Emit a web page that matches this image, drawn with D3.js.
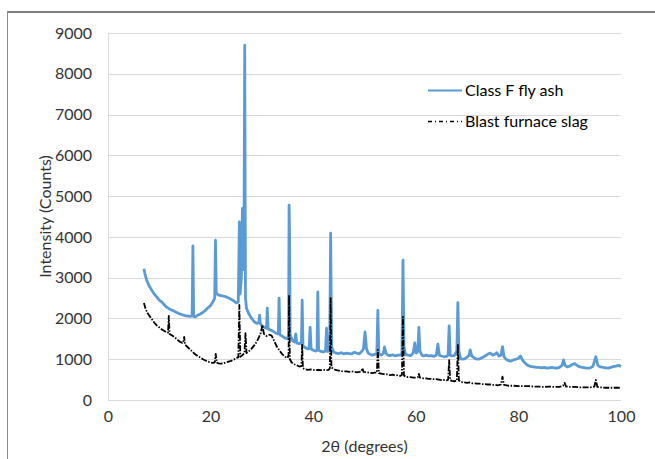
<!DOCTYPE html>
<html><head><meta charset="utf-8">
<script src="https://cdn.jsdelivr.net/npm/d3@7"></script>
<style>
html,body{margin:0;padding:0;background:#fff;}
svg{display:block;font-family:Lato,"Open Sans",sans-serif;}
</style></head>
<body>
<svg id="chart" width="655" height="459"></svg>
<script>
const xTicks = [0, 20, 40, 60, 80, 100];
const yTicks = [0, 1000, 2000, 3000, 4000, 5000, 6000, 7000, 8000, 9000];
const seriesNames = ["Class F fly ash", "Blast furnace slag"];

// [2θ, counts]
const flyAsh = [
[7.0,3220],[7.2,3100],[7.5,2950],[8.0,2800],[8.5,2700],[9.0,2600],[9.5,2530],[10.0,2450],
[10.5,2400],[11.0,2330],[11.5,2270],[12.0,2230],[12.5,2200],[13.0,2170],[13.5,2140],[14.0,2110],
[14.5,2090],[15.0,2070],[15.5,2060],[16.0,2050],[16.4,2060],[16.55,3780],[16.7,2050],[17.0,2040],
[17.5,2080],[18.0,2110],[18.5,2150],[19.0,2200],[19.5,2260],[20.0,2320],[20.5,2420],[20.8,2500],
[20.95,3920],[21.1,2620],[21.5,2580],[22.0,2560],[22.5,2550],[23.0,2530],[23.5,2500],[24.0,2470],
[24.5,2430],[25.0,2380],[25.4,2400],[25.6,4370],[25.75,2600],[26.0,3000],[26.2,4700],[26.35,3200],
[26.5,3600],[26.65,8700],[26.8,2500],[27.0,2250],[27.5,2100],[28.0,2000],[28.5,1920],[29.0,1880],
[29.4,1900],[29.55,2080],[29.7,1870],[30.0,1820],[30.5,1780],[30.9,1760],[31.05,2250],[31.2,1750],
[31.5,1720],[32.0,1700],[32.5,1660],[33.0,1620],[33.2,1640],[33.35,2500],[33.5,1600],[34.0,1560],
[34.5,1520],[35.0,1500],[35.2,1600],[35.3,4780],[35.4,4000],[35.5,1600],[36.0,1450],[36.4,1420],
[36.6,1620],[36.8,1400],[37.2,1380],[37.5,1400],[37.7,1380],[37.85,2450],[38.0,1330],[38.5,1280],
[39.0,1250],[39.2,1260],[39.4,1780],[39.6,1250],[40.0,1220],[40.5,1200],[40.75,1220],[40.9,2650],
[41.05,1220],[41.5,1190],[42.0,1180],[42.4,1200],[42.6,1760],[42.8,1190],[43.2,1200],[43.4,4090],
[43.6,1300],[44.0,1170],[44.5,1150],[45.0,1140],[45.5,1160],[46.0,1130],[46.5,1150],[47.0,1140],
[47.5,1130],[48.0,1170],[48.5,1150],[49.0,1130],[49.5,1200],[49.8,1250],[50.1,1670],[50.4,1250],
[50.7,1150],[51.0,1130],[51.5,1100],[52.0,1120],[52.4,1130],[52.6,2200],[52.8,1130],[53.2,1100],
[53.7,1150],[53.9,1300],[54.2,1150],[54.5,1100],[55.0,1090],[55.5,1110],[56.0,1080],[56.5,1100],
[57.0,1100],[57.3,1150],[57.5,3430],[57.7,1300],[58.0,1120],[58.5,1100],[59.0,1090],[59.5,1150],
[59.8,1400],[60.1,1150],[60.4,1200],[60.6,1780],[60.8,1200],[61.2,1100],[61.5,1080],[62.0,1100],
[62.5,1080],[63.0,1090],[63.5,1070],[64.0,1100],[64.3,1370],[64.6,1100],[65.0,1080],[65.5,1060],
[66.0,1070],[66.3,1100],[66.5,1820],[66.7,1100],[67.0,1080],[67.5,1090],[68.0,1200],[68.2,2390],
[68.4,1200],[68.7,1020],[69.0,1000],[69.5,1010],[70.0,1050],[70.4,1100],[70.6,1230],[70.9,1080],
[71.5,1020],[72.0,1000],[72.5,1010],[73.0,1040],[73.5,1080],[74.0,1120],[74.5,1150],[75.0,1100],
[75.5,1130],[75.8,1160],[76.2,1080],[76.6,1100],[76.9,1310],[77.2,1060],[77.6,1000],[78.0,970],
[78.5,950],[79.0,980],[79.5,1000],[80.0,1020],[80.4,1080],[80.8,980],[81.2,920],[81.6,870],
[82.0,840],[82.5,820],[83.0,810],[83.5,800],[84.0,800],[84.5,790],[85.0,800],[85.5,780],
[86.0,790],[86.5,800],[87.0,790],[87.5,780],[88.0,800],[88.5,850],[88.8,980],[89.1,850],
[89.5,810],[90.0,830],[90.5,870],[91.0,890],[91.5,840],[92.0,810],[92.5,800],[93.0,790],
[93.5,780],[94.0,790],[94.5,820],[95.1,1060],[95.5,850],[96.0,810],[96.5,800],[97.0,790],
[97.5,780],[98.0,800],[98.5,820],[99.0,830],[99.5,850],[100.0,820]
];

const slag = [
[7.0,2380],[7.3,2250],[7.6,2150],[8.0,2080],[8.5,1990],[9.0,1900],[9.5,1830],[10.0,1780],
[10.5,1730],[11.0,1690],[11.5,1650],[11.7,1660],[11.85,2060],[12.0,1620],[12.5,1580],[13.0,1540],
[13.5,1480],[14.0,1430],[14.5,1400],[14.7,1420],[14.85,1550],[15.0,1360],[15.5,1300],[16.0,1240],
[16.5,1180],[17.0,1120],[17.5,1080],[18.0,1040],[18.5,1000],[19.0,970],[19.5,940],[20.0,920],
[20.5,910],[20.8,920],[21.0,1130],[21.2,920],[21.5,900],[22.0,890],[22.5,900],[23.0,920],
[23.5,940],[24.0,960],[24.5,990],[25.0,1020],[25.4,1050],[25.6,2330],[25.8,1060],[26.2,1100],
[26.6,1150],[26.8,1640],[27.0,1150],[27.5,1200],[28.0,1260],[28.5,1340],[29.0,1430],[29.5,1560],
[29.8,1650],[30.1,1840],[30.4,1620],[30.9,1570],[31.5,1600],[31.9,1580],[32.4,1450],[32.9,1310],
[33.5,1200],[34.0,1120],[34.5,1060],[35.0,1030],[35.2,1100],[35.3,2570],[35.45,1000],[35.8,920],
[36.2,880],[36.6,860],[37.0,840],[37.3,820],[37.7,830],[37.85,1350],[38.0,780],[38.5,750],
[39.0,740],[39.5,750],[40.0,740],[40.5,730],[41.0,740],[41.5,730],[42.0,740],[42.5,730],
[43.0,740],[43.25,780],[43.4,2500],[43.55,800],[44.0,760],[44.5,730],[45.0,720],[45.5,710],
[46.0,700],[46.5,700],[47.0,690],[47.5,700],[48.0,690],[48.5,680],[49.0,690],[49.4,700],
[49.6,780],[49.8,690],[50.5,680],[51.0,670],[51.5,660],[52.0,670],[52.4,670],[52.6,1230],
[52.8,660],[53.5,640],[54.0,630],[54.5,630],[55.0,610],[55.5,620],[56.0,600],[56.5,610],
[57.0,590],[57.3,620],[57.5,2040],[57.7,600],[58.0,570],[58.5,560],[59.0,560],[59.5,550],
[60.0,550],[60.4,560],[60.6,640],[60.8,550],[61.5,530],[62.0,530],[62.5,520],[63.0,520],
[63.5,510],[64.0,510],[64.5,500],[65.0,490],[65.5,490],[66.0,480],[66.3,500],[66.5,980],
[66.7,490],[67.0,470],[67.5,460],[68.0,470],[68.2,1350],[68.4,480],[68.8,440],[69.5,430],
[70.0,420],[70.5,430],[71.0,410],[71.5,410],[72.0,400],[72.5,400],[73.0,390],[73.5,390],
[74.0,380],[74.5,380],[75.0,370],[75.5,370],[76.0,360],[76.6,380],[76.9,570],[77.2,370],
[78.0,350],[79.0,350],[80.0,340],[81.0,340],[82.0,340],[83.0,330],[84.0,330],[85.0,320],
[86.0,330],[87.0,320],[88.0,320],[88.7,350],[89.0,420],[89.3,330],[90.0,320],[91.0,320],
[92.0,310],[93.0,310],[94.0,310],[94.8,330],[95.1,490],[95.4,320],[96.0,310],[97.0,300],
[98.0,300],[99.0,300],[100.0,300]
];

const svg = d3.select("#chart");
const W = 655, H = 459;
const plot = {left:108, right:621, top:33, bottom:400};
const x = d3.scaleLinear().domain([0,100]).range([plot.left, plot.right]);
const y = d3.scaleLinear().domain([0,9000]).range([plot.bottom, plot.top]);
const textColor = "#333";
const blue = "#5b9bd5";
const fs = "16px";

// outer frame
svg.append("line").attr("x1",7).attr("x2",W).attr("y1",12).attr("y2",12)
  .attr("stroke","#7f7f7f").attr("stroke-width",2);
svg.append("line").attr("x1",7.5).attr("x2",7.5).attr("y1",11).attr("y2",H)
  .attr("stroke","#8c8c8c").attr("stroke-width",1);

// gridlines
svg.append("g").selectAll("line").data(yTicks).join("line")
  .attr("x1",plot.left).attr("x2",plot.right)
  .attr("y1",d=>Math.round(y(d))+0.5).attr("y2",d=>Math.round(y(d))+0.5)
  .attr("stroke","#d9d9d9").attr("stroke-width",1);
svg.append("line").attr("x1",plot.left+0.5).attr("x2",plot.left+0.5)
  .attr("y1",plot.top).attr("y2",plot.bottom+0.5)
  .attr("stroke","#d9d9d9");

// axes (labels only)
const yAxis = d3.axisLeft(y).tickValues(yTicks).tickFormat(d3.format("d")).tickSize(0).tickPadding(16);
const gy = svg.append("g").attr("transform",`translate(${plot.left},0)`).call(yAxis);
gy.select(".domain").remove();
gy.selectAll("text").attr("fill",textColor).style("font-size",fs).style("font-family","Lato,sans-serif");

const xAxis = d3.axisBottom(x).tickValues(xTicks).tickFormat(d3.format("d")).tickSize(0).tickPadding(11);
const gx = svg.append("g").attr("transform",`translate(0,${plot.bottom})`).call(xAxis);
gx.select(".domain").remove();
gx.selectAll("text").attr("fill",textColor).style("font-size",fs).style("font-family","Lato,sans-serif");

// axis titles
svg.append("text").attr("x",(plot.left+plot.right)/2).attr("y",452)
  .attr("text-anchor","middle").attr("fill",textColor).style("font-size",fs)
  .text("2θ (degrees)");
svg.append("text").attr("transform",`translate(51,${(plot.top+plot.bottom)/2}) rotate(-90)`)
  .attr("text-anchor","middle").attr("fill",textColor).style("font-size",fs)
  .text("Intensity (Counts)");

const line = d3.line().x(d=>x(d[0])).y(d=>y(d[1]));

svg.append("path").datum(flyAsh).attr("d",line)
  .attr("fill","none").attr("stroke",blue).attr("stroke-width",2.8).attr("stroke-linejoin","round");
svg.append("path").datum(slag).attr("d",line)
  .attr("fill","none").attr("stroke","#000").attr("stroke-width",1.8)
  .attr("stroke-dasharray","6,1.5,1.5,1.5").attr("stroke-linejoin","round");

// legend
const lg = svg.append("g");
lg.append("line").attr("x1",428).attr("x2",462).attr("y1",90.5).attr("y2",90.5)
  .attr("stroke",blue).attr("stroke-width",2);
lg.append("text").attr("x",465).attr("y",96).attr("fill","#000").style("font-size",fs).text(seriesNames[0]);
lg.append("line").attr("x1",428).attr("x2",462).attr("y1",121.5).attr("y2",121.5)
  .attr("stroke","#000").attr("stroke-width",1.3).attr("stroke-dasharray","4,3,1,3");
lg.append("text").attr("x",465).attr("y",127).attr("fill","#000").style("font-size",fs).text(seriesNames[1]);
</script>
</body></html>
